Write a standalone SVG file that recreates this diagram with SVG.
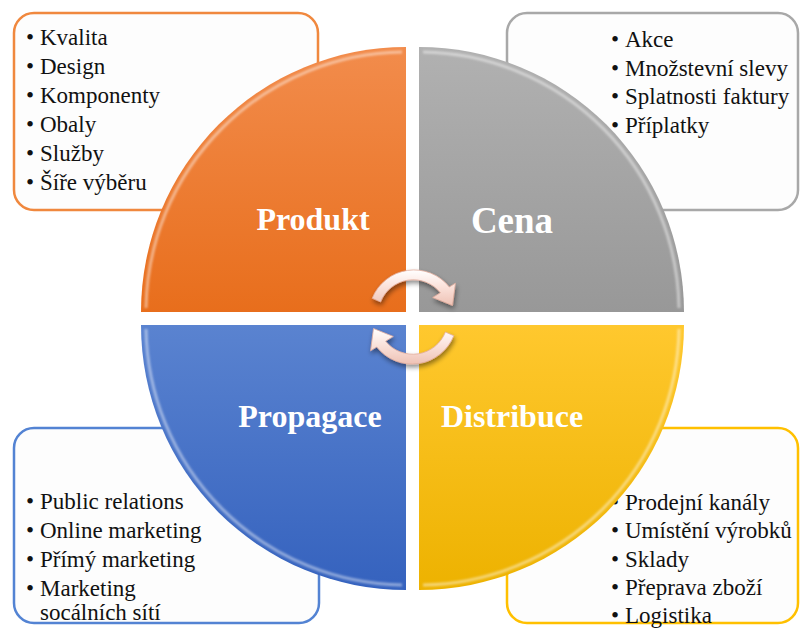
<svg xmlns="http://www.w3.org/2000/svg" width="800" height="628" viewBox="0 0 800 628">
  <defs>
    <linearGradient id="gOrange" x1="0" y1="0" x2="0" y2="1">
      <stop offset="0" stop-color="#F28C4C"/>
      <stop offset="1" stop-color="#E86E1C"/>
    </linearGradient>
    <linearGradient id="gGray" x1="0" y1="0" x2="0" y2="1">
      <stop offset="0" stop-color="#B1B1B1"/>
      <stop offset="1" stop-color="#989898"/>
    </linearGradient>
    <linearGradient id="gBlue" x1="0" y1="0" x2="0" y2="1">
      <stop offset="0" stop-color="#5A83D0"/>
      <stop offset="1" stop-color="#3562BE"/>
    </linearGradient>
    <linearGradient id="gYellow" x1="0" y1="0" x2="0" y2="1">
      <stop offset="0" stop-color="#FFC82E"/>
      <stop offset="1" stop-color="#EDB200"/>
    </linearGradient>
    <linearGradient id="gArrow" x1="0" y1="0" x2="0" y2="1">
      <stop offset="0" stop-color="#FFFFFF"/>
      <stop offset="0.45" stop-color="#FBE3DC"/>
      <stop offset="1" stop-color="#EEC2B5"/>
    </linearGradient>
    <filter id="soft" x="-10%" y="-10%" width="120%" height="120%">
      <feGaussianBlur stdDeviation="1.2"/>
    </filter>
    <filter id="shadow" x="-30%" y="-30%" width="160%" height="160%">
      <feGaussianBlur in="SourceAlpha" stdDeviation="2.5"/>
      <feOffset dx="1" dy="3" result="b"/>
      <feComponentTransfer><feFuncA type="linear" slope="0.45"/></feComponentTransfer>
      <feMerge><feMergeNode/><feMergeNode in="SourceGraphic"/></feMerge>
    </filter>
  </defs>
  <style>
    .box { fill: #FDFDFD; stroke-width: 2.5; }
    .hl { fill: none; stroke: #FFFFFF; stroke-opacity: 0.45; stroke-width: 3; filter: url(#soft); }
    .arrow { fill: url(#gArrow); stroke: #E2AC9C; stroke-width: 0.8; }
  </style>

  <rect width="800" height="628" fill="#FFFFFF"/>

  <!-- text boxes, drawn behind the circle -->
  <g id="box-produkt">
    <rect class="box" x="14" y="13" width="304" height="197" rx="20" stroke="#F0883E"/>
    <g font-family="Liberation Serif, Times New Roman, serif" font-size="23" fill="#111111">
      <text x="26" y="45">•</text><text x="40" y="45">Kvalita</text>
      <text x="26" y="74">•</text><text x="40" y="74">Design</text>
      <text x="26" y="103">•</text><text x="40" y="103">Komponenty</text>
      <text x="26" y="132">•</text><text x="40" y="132">Obaly</text>
      <text x="26" y="161">•</text><text x="40" y="161">Služby</text>
      <text x="26" y="190">•</text><text x="40" y="190">Šíře výběru</text>
    </g>
  </g>
  <g id="box-cena">
    <rect class="box" x="507" y="13" width="291" height="197" rx="20" stroke="#A8A8A8"/>
    <g font-family="Liberation Serif, Times New Roman, serif" font-size="23" fill="#111111">
      <text x="611" y="47">•</text><text x="625" y="47">Akce</text>
      <text x="611" y="76">•</text><text x="625" y="76">Množstevní slevy</text>
      <text x="611" y="104">•</text><text x="625" y="104">Splatnosti faktury</text>
      <text x="611" y="133">•</text><text x="625" y="133">Příplatky</text>
    </g>
  </g>
  <g id="box-propagace">
    <rect class="box" x="14" y="428" width="305" height="195" rx="20" stroke="#5383D3"/>
    <g font-family="Liberation Serif, Times New Roman, serif" font-size="23" fill="#111111">
      <text x="26" y="509">•</text><text x="40" y="509">Public relations</text>
      <text x="26" y="538">•</text><text x="40" y="538">Online marketing</text>
      <text x="26" y="567">•</text><text x="40" y="567">Přímý marketing</text>
      <text x="26" y="596">•</text><text x="40" y="596">Marketing</text>
      <text x="40" y="620">socálních sítí</text>
    </g>
  </g>
  <g id="box-distribuce">
    <rect class="box" x="507" y="428" width="291" height="195" rx="20" stroke="#FFC000"/>
    <g font-family="Liberation Serif, Times New Roman, serif" font-size="23" fill="#111111">
      <text x="611" y="510">•</text><text x="625" y="510">Prodejní kanály</text>
      <text x="611" y="538">•</text><text x="625" y="538">Umístění výrobků</text>
      <text x="611" y="567">•</text><text x="625" y="567">Sklady</text>
      <text x="611" y="595">•</text><text x="625" y="595">Přeprava zboží</text>
      <text x="611" y="623">•</text><text x="625" y="623">Logistika</text>
    </g>
  </g>

  <!-- four quadrants of the circle -->
  <g id="produkt">
    <path d="M406 312 L141 312 A265 265 0 0 1 406 47 Z" fill="url(#gOrange)"/>
    <path class="hl" d="M146 308 A260 260 0 0 1 402 52"/>
    <text x="313" y="230" font-family="Liberation Serif, Times New Roman, serif" font-weight="bold" font-size="32" fill="#FFFFFF" text-anchor="middle">Produkt</text>
  </g>
  <g id="cena">
    <path d="M419 312 L419 47 A265 265 0 0 1 684 312 Z" fill="url(#gGray)"/>
    <path class="hl" d="M423 52 A260 260 0 0 1 679 308"/>
    <text x="512" y="233" font-family="Liberation Serif, Times New Roman, serif" font-weight="bold" font-size="37" fill="#FFFFFF" text-anchor="middle">Cena</text>
  </g>
  <g id="propagace">
    <path d="M406 325 L406 590 A265 265 0 0 1 141 325 Z" fill="url(#gBlue)"/>
    <path class="hl" d="M402 585 A260 260 0 0 1 146 329"/>
    <text x="310" y="427" font-family="Liberation Serif, Times New Roman, serif" font-weight="bold" font-size="32" fill="#FFFFFF" text-anchor="middle">Propagace</text>
  </g>
  <g id="distribuce">
    <path d="M419 325 L684 325 A265 265 0 0 1 419 590 Z" fill="url(#gYellow)"/>
    <path class="hl" d="M679 329 A260 260 0 0 1 423 585"/>
    <text x="512" y="427" font-family="Liberation Serif, Times New Roman, serif" font-weight="bold" font-size="32" fill="#FFFFFF" text-anchor="middle">Distribuce</text>
  </g>

  <!-- circular arrows in the middle -->
  <g id="connectors" filter="url(#shadow)">
    <g id="cycle-arrow-top">
      <path class="arrow" d="M 372.2 298.3 A 45 45 0 0 1 449.3 287.0 L 455.4 283.2 L 452.5 305.5 L 432.7 297.5 L 440.4 292.8 A 35 35 0 0 0 380.6 301.9 Z"/>
    </g>
    <g id="cycle-arrow-bottom">
      <path class="arrow" d="M 453.8 335.7 A 45 45 0 0 1 376.7 347.0 L 370.6 350.8 L 373.5 328.5 L 393.3 336.5 L 385.6 341.2 A 35 35 0 0 0 445.4 332.1 Z"/>
    </g>
  </g>
</svg>
